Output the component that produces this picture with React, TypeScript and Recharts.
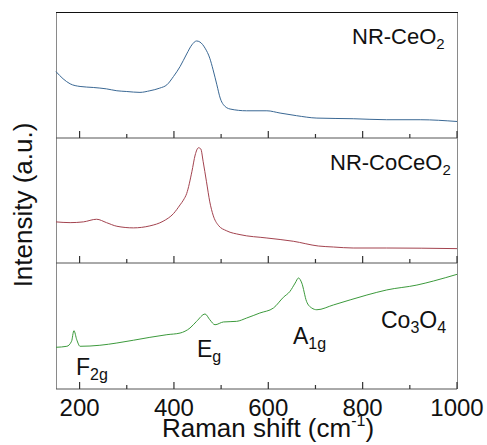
import React from "react";
import { Line, LineChart, XAxis, YAxis } from "recharts";

// Raman shift (cm-1) ticks along the shared x axis
const SHIFT_TICKS = [200, 300, 400, 500, 600, 700, 800, 900, 1000];
const MAJOR_TICKS = [200, 400, 600, 800, 1000];

// NR-CeO2 (top panel), intensity in a.u. (0-100 per panel)
const ceo2Shift = [150, 165, 180, 201, 229, 257, 279, 300, 328, 349, 370, 385, 399, 413, 427, 438, 448, 455, 466, 476, 483, 491, 498, 505, 519, 554, 597, 625, 660, 703, 780, 851, 922, 1000];
const ceo2Intensity = [52.7, 47.0, 43.0, 40.9, 40.1, 39.0, 37.5, 36.9, 36.2, 37.5, 39.6, 42.2, 48.8, 56.7, 66.7, 73.9, 77.0, 76.2, 71.3, 63.3, 54.1, 42.2, 31.7, 26.4, 23.0, 21.6, 21.6, 19.8, 17.7, 15.8, 15.3, 14.5, 14.5, 13.1];

// NR-CoCeO2 (middle panel)
const coceo2Shift = [150, 180, 208, 236, 257, 279, 314, 349, 377, 399, 413, 420, 427, 438, 445, 452, 457, 462, 469, 476, 483, 494, 512, 540, 597, 653, 706, 738, 780, 851, 1000];
const coceo2Intensity = [32.9, 32.3, 32.9, 35.0, 32.3, 29.4, 28.1, 29.7, 33.4, 39.5, 46.5, 50.3, 55.6, 73.0, 86.4, 92.2, 91.2, 81.0, 65.0, 48.9, 38.3, 30.2, 25.7, 22.7, 20.0, 17.4, 13.6, 12.8, 12.0, 12.0, 11.5];

// Co3O4 (bottom panel)
const co3o4Shift = [150, 173, 183, 188, 194, 201, 243, 279, 314, 349, 385, 413, 434, 448, 466, 476, 487, 505, 533, 554, 582, 611, 632, 646, 657, 664, 671, 681, 692, 703, 738, 809, 851, 915, 950, 1000];
const co3o4Intensity = [33.1, 33.9, 37.9, 46.3, 39.1, 33.9, 34.7, 36.5, 38.7, 41.0, 43.1, 44.4, 48.4, 53.7, 59.5, 55.0, 51.0, 53.2, 53.7, 56.3, 60.3, 64.3, 72.8, 77.5, 84.1, 88.1, 84.1, 69.6, 64.3, 62.9, 66.7, 74.6, 78.6, 82.5, 85.7, 91.0];

const FONT = "'Liberation Sans', Arial, sans-serif";
const W = 487;
const PLOT_LEFT = 56;
const PLOT_RIGHT = 457;
const MARGIN = { top: 2, right: W - PLOT_RIGHT, bottom: 0, left: PLOT_LEFT };

function toRows(xs: number[], ys: number[]) {
  return xs.map((x, i) => ({ shift: x, intensity: ys[i] }));
}

function ShiftTick(props: any) {
  const { x, y, payload, showLabel } = props;
  const major = MAJOR_TICKS.includes(payload.value);
  const len = major ? 7 : 4;
  return (
    <g>
      <path d={`M${x},${y}V${y - len}`} stroke="#333" strokeWidth={1.2} fill="none" />
      {showLabel && major && (
        <text x={x} y={y + 27} textAnchor="middle" fontSize={24} fontFamily={FONT} fill="#111">
          {payload.value}
        </text>
      )}
    </g>
  );
}

function Panel({
  xs,
  ys,
  color,
  height,
  top,
  showLabels,
}: {
  xs: number[];
  ys: number[];
  color: string;
  height: number;
  top: number;
  showLabels?: boolean;
}) {
  const data = toRows(xs, ys);
  const axisHeight = showLabels ? 60 : 4;
  return (
    <div style={{ position: "absolute", left: 0, top: top - MARGIN.top }}>
      <LineChart width={W} height={height + MARGIN.top + axisHeight} data={data} margin={MARGIN}>
        <XAxis
          dataKey="shift"
          type="number"
          domain={[150, 1000]}
          ticks={SHIFT_TICKS}
          interval={0}
          height={axisHeight}
          tickSize={0}
          tickMargin={0}
          tickLine={false}
          axisLine={{ stroke: "#555" }}
          tick={(p: any) => <ShiftTick {...p} showLabel={showLabels} />}
        />
        <YAxis type="number" domain={[0, 100]} width={0} tick={false} axisLine={false} />
        <Line
          dataKey="intensity"
          type="monotone"
          stroke={color}
          strokeWidth={1}
          dot={false}
          isAnimationActive={false}
        />
      </LineChart>
    </div>
  );
}

const textStyle = { fontFamily: FONT, fill: "#111" };

// panel frames: [top, bottom] in page pixels
const PANELS = [
  [12, 138],
  [138, 263],
  [263, 389],
];

export default function App() {
  return (
    <div style={{ position: "absolute", left: 0, top: 0, width: W, height: 445, background: "#fff" }}>
      <svg width={W} height={445} style={{ position: "absolute", left: 0, top: 0 }}>
        {PANELS.map(([t, b], i) => (
          <g key={i} fill="none">
            <path d={`M${PLOT_LEFT + 0.5},${t}V${b}`} stroke="#8a8a8a" />
            <path d={`M${PLOT_RIGHT + 0.5},${t}V${b}`} stroke="#8a8a8a" />
          </g>
        ))}
        <path d={`M${PLOT_LEFT},${12.5}H${PLOT_RIGHT + 1}`} stroke="#111" fill="none" />
        <text x={352} y={44} fontSize={22} style={textStyle}>
          NR-CeO<tspan fontSize={15} dy={5}>2</tspan>
        </text>
        <text x={330} y={170} fontSize={22} style={textStyle}>
          NR-CoCeO<tspan fontSize={15} dy={5}>2</tspan>
        </text>
        <text x={76} y={375} fontSize={23} style={textStyle}>
          F<tspan fontSize={16} dy={5}>2g</tspan>
        </text>
        <text x={197} y={357} fontSize={23} style={textStyle}>
          E<tspan fontSize={16} dy={5}>g</tspan>
        </text>
        <text x={293} y={344} fontSize={23} style={textStyle}>
          A<tspan fontSize={16} dy={5}>1g</tspan>
        </text>
        <text x={381} y={328} fontSize={23} style={textStyle}>
          Co<tspan fontSize={16} dy={5}>3</tspan>
          <tspan dy={-5}>O</tspan>
          <tspan fontSize={16} dy={5}>4</tspan>
        </text>
        <text x={268} y={437} fontSize={26} textAnchor="middle" style={textStyle}>
          Raman shift (cm<tspan fontSize={16} dy={-11}>-1</tspan>
          <tspan dy={11}>)</tspan>
        </text>
        <text
          x={0}
          y={0}
          fontSize={26}
          textAnchor="middle"
          dominantBaseline="central"
          transform="translate(23 205) rotate(-90)"
          style={textStyle}
        >
          Intensity (a.u.)
        </text>
      </svg>
      <Panel xs={ceo2Shift} ys={ceo2Intensity} color="#3a6894" height={126} top={12} />
      <Panel xs={coceo2Shift} ys={coceo2Intensity} color="#a3434f" height={125} top={138} />
      <Panel xs={co3o4Shift} ys={co3o4Intensity} color="#3c9a3c" height={126} top={263} showLabels />
    </div>
  );
}
